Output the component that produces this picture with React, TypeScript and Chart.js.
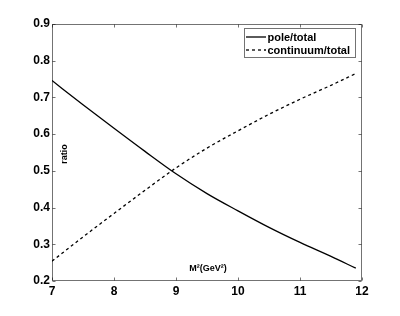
import React, { useEffect, useRef } from "react";
import { Chart, registerables } from "chart.js";

Chart.register(...registerables);

// ---- data ----
const m2Values = [7.0, 7.5, 8.0, 8.5, 9.0, 9.5, 10.0, 10.5, 11.0, 11.5, 11.9];
const poleTotal = [0.746, 0.68, 0.616, 0.553, 0.492, 0.438, 0.391, 0.346, 0.305, 0.267, 0.235];
const continuumTotal = [0.254, 0.32, 0.384, 0.447, 0.508, 0.562, 0.609, 0.654, 0.695, 0.733, 0.765];
const seriesLabels = ["pole/total", "continuum/total"];
const xAxisTitle = "M²(GeV²)";
const yAxisTitle = "ratio";
const xRange = [7, 12];
const yRange = [0.2, 0.9];

const FONT = "'Liberation Sans', Arial, Helvetica, sans-serif";
const AXIS_COLOR = "rgba(0,0,0,0.55)";

const overlayPlugin = {
  id: "matlabOverlay",
  afterDraw(chart: any) {
    const ctx = chart.ctx as CanvasRenderingContext2D;
    const { left, right, top, bottom } = chart.chartArea;
    const xs = chart.scales.x;
    const ys = chart.scales.y;
    ctx.save();

    // axis box
    ctx.strokeStyle = AXIS_COLOR;
    ctx.lineWidth = 1;
    ctx.setLineDash([]);
    const L = Math.round(left) + 0.5;
    const R = Math.round(right) - 0.5;
    const T = Math.round(top) + 0.5;
    const B = Math.round(bottom) - 0.5;
    ctx.strokeRect(L, T, R - L, B - T);

    // inward ticks
    const tl = 3;
    ctx.beginPath();
    xs.ticks.forEach((t: any) => {
      const px = Math.round(xs.getPixelForValue(t.value)) + 0.5;
      ctx.moveTo(px, B);
      ctx.lineTo(px, B - tl);
      ctx.moveTo(px, T);
      ctx.lineTo(px, T + tl);
    });
    ys.ticks.forEach((t: any) => {
      const py = Math.round(ys.getPixelForValue(t.value)) + 0.5;
      ctx.moveTo(L, py);
      ctx.lineTo(L + tl, py);
      ctx.moveTo(R, py);
      ctx.lineTo(R - tl, py);
    });
    ctx.stroke();

    // axis titles (placed inside the axes like the reference)
    ctx.fillStyle = "#000";
    ctx.font = `bold 9px ${FONT}`;
    ctx.textAlign = "center";
    ctx.textBaseline = "middle";
    ctx.save();
    ctx.translate(65, 154);
    ctx.rotate(-Math.PI / 2);
    ctx.fillText(yAxisTitle, 0, 0);
    ctx.restore();
    ctx.textBaseline = "alphabetic";
    ctx.fillText(xAxisTitle, 208, 271);

    // legend
    const bx = 244.5, by = 28.5, bw = 111, bh = 29;
    ctx.fillStyle = "#fff";
    ctx.fillRect(bx, by, bw, bh);
    ctx.strokeStyle = AXIS_COLOR;
    ctx.lineWidth = 1;
    ctx.strokeRect(bx, by, bw, bh);

    const rows = [37, 50];
    const dashes = [[], [3, 3]];
    ctx.strokeStyle = "#000";
    ctx.lineWidth = 1.3;
    rows.forEach((ry, i) => {
      ctx.setLineDash(dashes[i]);
      ctx.beginPath();
      ctx.moveTo(246, ry);
      ctx.lineTo(266, ry);
      ctx.stroke();
    });
    ctx.setLineDash([]);
    ctx.fillStyle = "#000";
    ctx.font = `bold 11px ${FONT}`;
    ctx.textAlign = "left";
    ctx.textBaseline = "middle";
    rows.forEach((ry, i) => {
      ctx.fillText(seriesLabels[i], 267.5, ry + 0.5);
    });
    ctx.restore();
  },
};

export default function App() {
  const canvasRef = useRef<HTMLCanvasElement | null>(null);

  useEffect(() => {
    if (!canvasRef.current) return;
    const toPoints = (ys: number[]) => m2Values.map((x, i) => ({ x, y: ys[i] }));
    const chart = new Chart(canvasRef.current, {
      type: "line",
      data: {
        datasets: [
          {
            label: seriesLabels[0],
            data: toPoints(poleTotal),
            borderColor: "#000",
            borderWidth: 1.3,
            pointRadius: 0,
            cubicInterpolationMode: "monotone",
            fill: false,
          },
          {
            label: seriesLabels[1],
            data: toPoints(continuumTotal),
            borderColor: "#000",
            borderWidth: 1.3,
            borderDash: [3, 3],
            pointRadius: 0,
            cubicInterpolationMode: "monotone",
            fill: false,
          },
        ],
      },
      options: {
        animation: false,
        responsive: false,
        maintainAspectRatio: false,
        layout: { padding: { left: 0, top: 24, right: 38, bottom: 0 } },
        plugins: {
          legend: { display: false },
          tooltip: { enabled: false },
          title: { display: false },
        },
        scales: {
          x: {
            type: "linear",
            min: xRange[0],
            max: xRange[1],
            grid: { display: false, drawTicks: false },
            border: { display: false },
            ticks: {
              stepSize: 1,
              padding: 3,
              color: "#000",
              font: { family: FONT, size: 12, weight: "bold" },
              maxRotation: 0,
            },
            afterFit: (s: any) => {
              s.height = 35;
            },
          },
          y: {
            type: "linear",
            min: yRange[0],
            max: yRange[1],
            grid: { display: false, drawTicks: false },
            border: { display: false },
            ticks: {
              stepSize: 0.1,
              padding: 2,
              color: "#000",
              font: { family: FONT, size: 12, weight: "bold" },
              callback: (v: any) => Number(v).toFixed(1),
            },
            afterFit: (s: any) => {
              s.width = 52;
            },
          },
        },
      },
      plugins: [overlayPlugin],
    });
    return () => chart.destroy();
  }, []);

  return (
    <div style={{ position: "absolute", left: 0, top: 0, width: 400, height: 316, background: "#fff" }}>
      <canvas ref={canvasRef} width={400} height={316} style={{ width: 400, height: 316, display: "block" }} />
    </div>
  );
}
